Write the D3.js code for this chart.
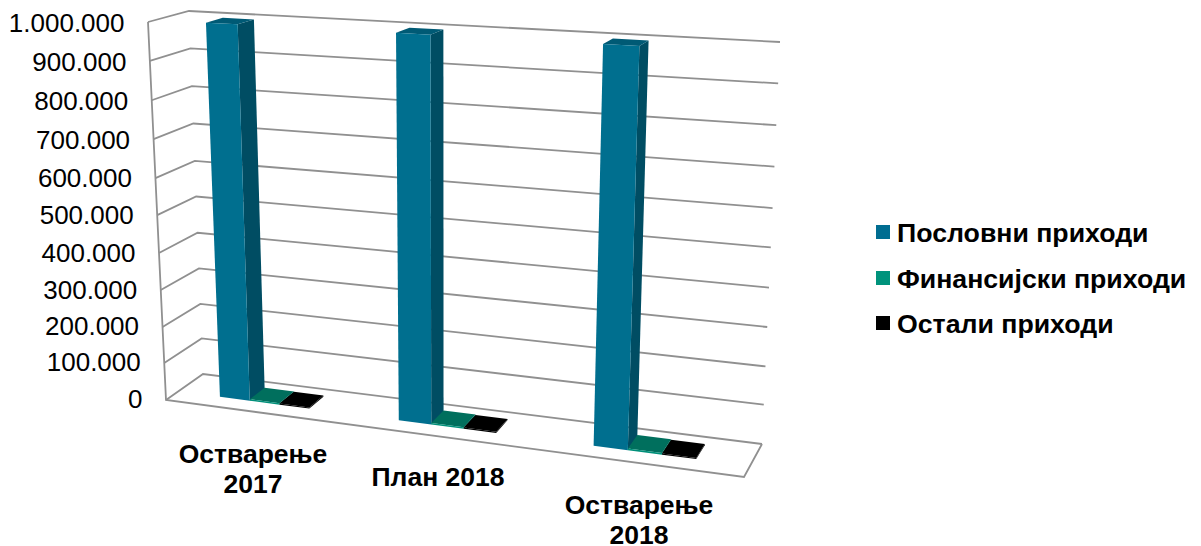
<!DOCTYPE html>
<html><head><meta charset="utf-8">
<script src="https://cdnjs.cloudflare.com/ajax/libs/d3/7.8.5/d3.min.js"></script>
<style>html,body{margin:0;background:#fff}svg{display:block}text{font-family:"Liberation Sans",Arial,sans-serif;fill:#000}</style>
</head><body><svg id="c" width="1201" height="546"></svg>
<script>
const categories = [["Остварење","2017"],["План 2018"],["Остварење","2018"]];
const seriesNames = ["Пословни приходи","Финансијски приходи","Остали приходи"];
const poslovni = [995000, 995000, 995000];
const finansijski = [4000, 4000, 4000];
const ostali = [3000, 3000, 3000];
const tickValues = [0,100000,200000,300000,400000,500000,600000,700000,800000,900000,1000000];
const tickLabels = ["0","100.000","200.000","300.000","400.000","500.000","600.000","700.000","800.000","900.000","1.000.000"];
const seriesValues = [poslovni, finansijski, ostali];
const faceColors = [
  {front:"#006f8f", side:"#004d63", top:"#005a75"},
  {front:"#00907a", side:"#006653", top:"#006f5d"},
  {front:"#000000", side:"#000000", top:"#000000"}
];
const legendColors = ["#006d91","#00937c","#000000"];

// corners of the projected plot box
const FB=[166,400], FT=[148,22], BB=[203,374], BT=[189,11];
const RFB=[744,477], RFT=[764,55], RBB=[762,444], RBT=[780,42];
const lerp=(a,b,t)=>[a[0]+(b[0]-a[0])*t, a[1]+(b[1]-a[1])*t];
// perspective: ticks are slightly further apart towards the top
const vScale=d3.scaleLinear().domain(tickValues)
  .range([0,.098,.193,.291,.389,.489,.587,.690,.793,.897,1]);
// perspective along the category direction
const uWarp=d3.scaleLinear().domain([.073,.40,.727,.889]).range([.073,.386,.727,.905]);
function P(u,d,val){
  const v=vScale(val);
  const L=lerp(lerp(FB,BB,d),lerp(FT,BT,d),v);
  const R=lerp(lerp(RFB,RBB,d),lerp(RFT,RBT,d),v);
  return lerp(L,R,u);
}
const svg=d3.select("#c");
const path=pts=>d3.line()(pts)+"Z";
const gridStyle=s=>s.attr("fill","none").attr("stroke","#909090").attr("stroke-width",1.8);

const g=svg.append("g");
tickValues.forEach(t=>{
  g.append("path").attr("d",d3.line()([P(0,0,t),P(0,1,t),P(1,1,t)])).call(gridStyle);
});
g.append("path").attr("d",d3.line()([P(0,0,1000000),P(0,0,0),P(1,0,0),P(1,1,0)])).call(gridStyle);

tickValues.forEach((t,i)=>{
  const p=P(0,0,t);
  svg.append("text").attr("x",p[0]-23.5).attr("y",p[1]+8+2*vScale(t)).attr("text-anchor","end")
    .attr("font-size",26).text(tickLabels[i]);
});

const x0=d3.scaleBand().domain(d3.range(categories.length)).range([0.073,0.89]).paddingInner(0.5);
const x1=d3.scaleBand().domain(d3.range(seriesNames.length)).range([0,x0.bandwidth()]);
const d0=0.33,d1=0.76;
categories.forEach((c,i)=>{
  seriesValues.forEach((vals,s)=>{
    const a=uWarp(x0(i)+x1(s)), b=uWarp(x0(i)+x1(s)+x1.bandwidth()), val=vals[i], col=faceColors[s];
    svg.append("path").attr("d",path([P(b,d0,0),P(b,d1,0),P(b,d1,val),P(b,d0,val)])).attr("fill",col.side);
    svg.append("path").attr("d",path([P(a,d0,val),P(b,d0,val),P(b,d1,val),P(a,d1,val)])).attr("fill",col.top);
    svg.append("path").attr("d",path([P(a,d0,0),P(b,d0,0),P(b,d0,val),P(a,d0,val)])).attr("fill",col.front);
  });
});

const catX=[253,438,639], catY=[463,486,513.5];
categories.forEach((lines,i)=>{
  lines.forEach((l,j)=>{
    svg.append("text").attr("x",catX[i]).attr("y",catY[i]+j*30).attr("text-anchor","middle")
      .attr("font-weight","bold").attr("font-size",26.5).text(l);
  });
});

const legY=[225,271,316];
seriesNames.forEach((n,i)=>{
  svg.append("rect").attr("x",876).attr("y",legY[i]).attr("width",14).attr("height",14).attr("fill",legendColors[i]);
  svg.append("text").attr("x",897).attr("y",legY[i]+16.5).attr("font-weight","bold").attr("font-size",26.7).text(n);
});
</script></body></html>
